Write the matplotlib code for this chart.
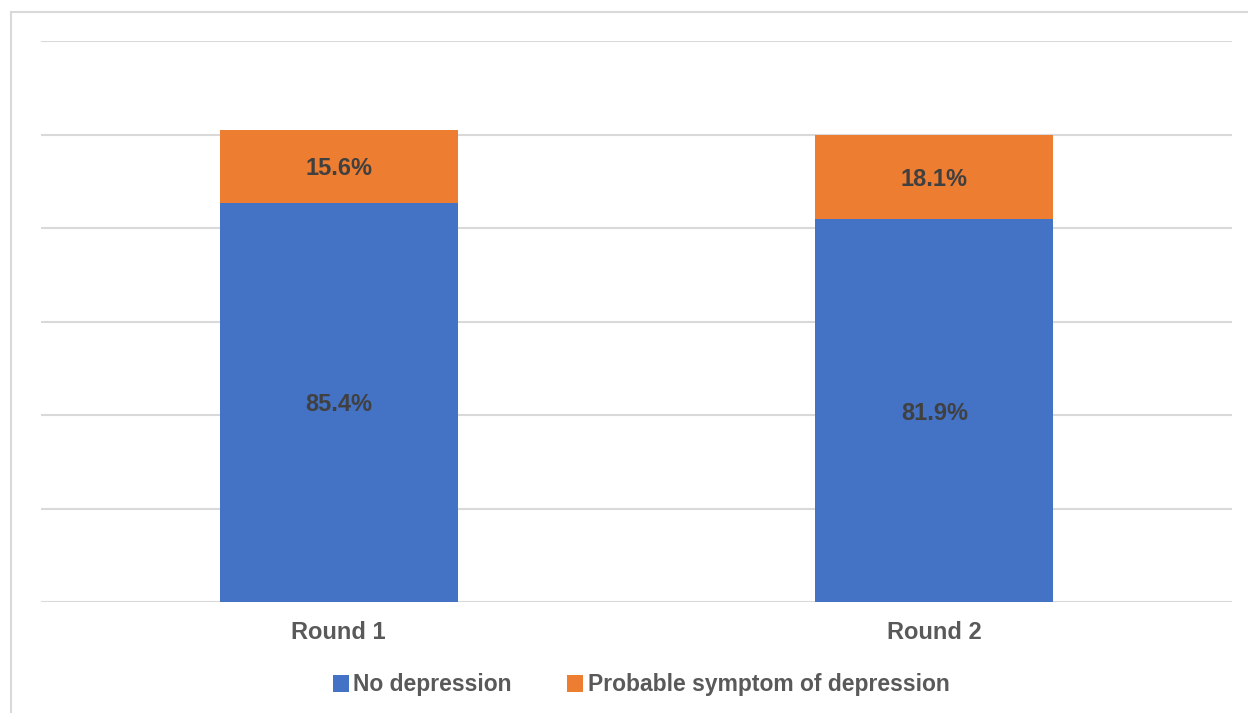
import matplotlib
matplotlib.use("Agg")
import matplotlib.pyplot as plt
from matplotlib.patches import Patch
from matplotlib.lines import Line2D
import numpy as np

rounds = ["Round 1", "Round 2"]
no_depression = [85.4, 81.9]
probable_depression = [15.6, 18.1]
series_names = ["No depression", "Probable symptom of depression"]

blue = "#4472C4"
orange = "#ED7D31"
grid_col = "#D9D9D9"
label_col = "#404040"
text_col = "#595959"

plt.rcParams["font.family"] = ["Liberation Sans", "DejaVu Sans"]

fig = plt.figure(figsize=(12.48, 7.13), dpi=100)
ax = fig.add_axes([41 / 1248, 1 - 602 / 713, (1232 - 41) / 1248, (602 - 41) / 713])

x = np.arange(len(rounds))
width = 0.40
ax.bar(x, no_depression, width, color=blue, zorder=3)
ax.bar(x, probable_depression, width, bottom=no_depression, color=orange, zorder=3)

for i in range(len(rounds)):
    ax.text(x[i], no_depression[i] / 2, f"{no_depression[i]:.1f}%", ha="center",
            va="center_baseline", fontsize=17, fontweight="bold", color=label_col, zorder=4)
    ax.text(x[i], no_depression[i] + probable_depression[i] / 2, f"{probable_depression[i]:.1f}%",
            ha="center", va="center_baseline", fontsize=17, fontweight="bold",
            color=label_col, zorder=4)

ax.set_xlim(-0.5, len(rounds) - 0.5)
ax.set_ylim(0, 120)
ax.set_yticks(np.arange(0, 121, 20))
ax.set_yticklabels([])
ax.tick_params(axis="y", length=0)
ax.tick_params(axis="x", length=0, pad=14)
ax.set_xticks(x)
ax.set_xticklabels(rounds, fontsize=17, fontweight="bold", color=text_col)
ax.grid(axis="y", color=grid_col, linewidth=1.5, zorder=0)
for s in ax.spines.values():
    s.set_visible(False)

handles = [Patch(facecolor=blue, edgecolor="none"), Patch(facecolor=orange, edgecolor="none")]
leg = fig.legend(handles, series_names, loc="center", bbox_to_anchor=(641 / 1248, 1 - 685 / 713),
                 ncol=2, frameon=False, prop={"size": 16.5, "weight": "bold"},
                 handlelength=0.7, handleheight=0.7, handletextpad=0.2, columnspacing=2.4)
for t in leg.get_texts():
    t.set_color(text_col)

# chart area border (left and top edges)
fig.add_artist(Line2D([11 / 1248, 11 / 1248], [0, 1 - 12 / 713], transform=fig.transFigure,
                      color=grid_col, linewidth=1.5))
fig.add_artist(Line2D([11 / 1248, 1], [1 - 12 / 713, 1 - 12 / 713], transform=fig.transFigure,
                      color=grid_col, linewidth=1.5))

fig.savefig("out.png", dpi=100)
